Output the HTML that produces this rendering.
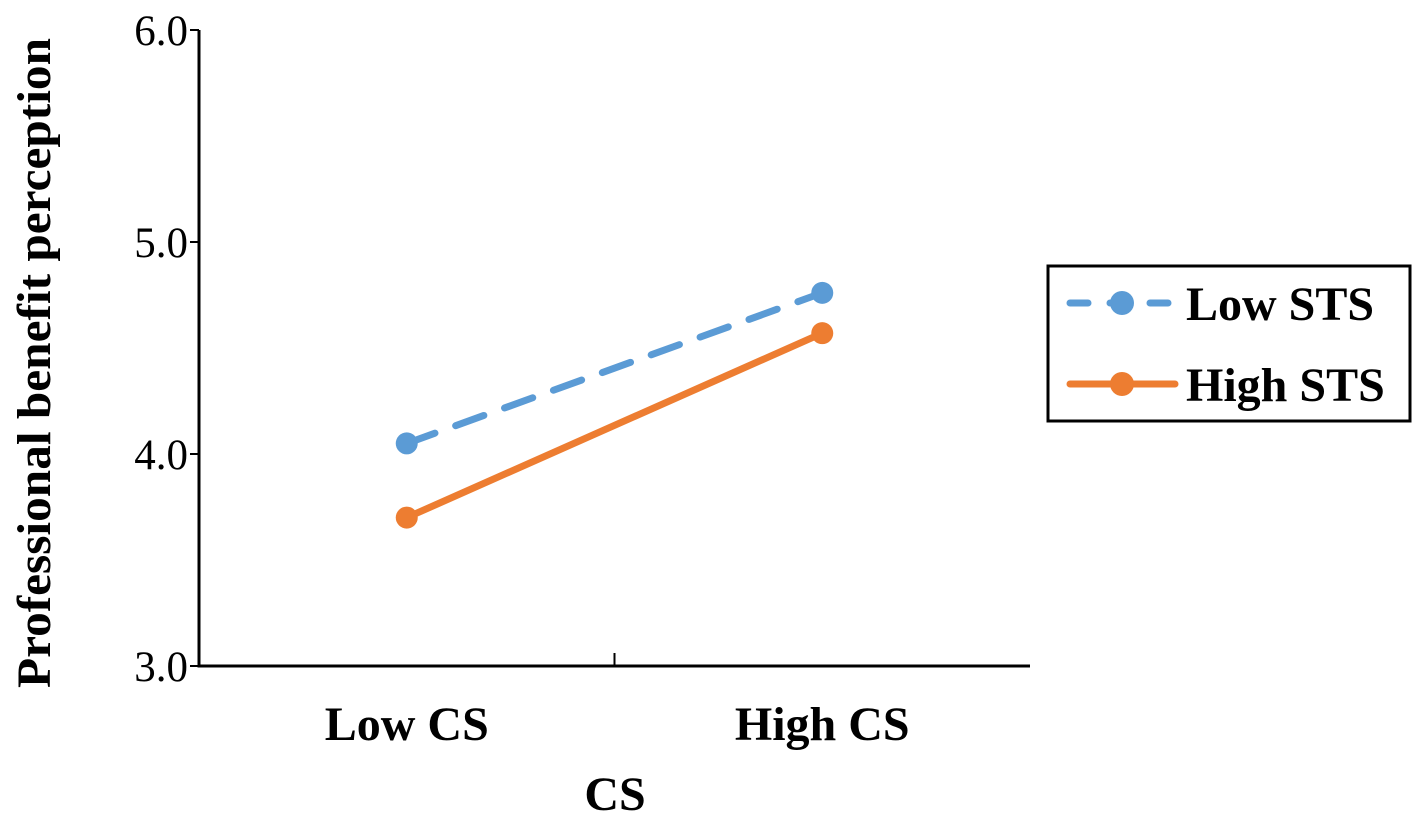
<!DOCTYPE html>
<html><head><meta charset="utf-8"><style>
html,body{margin:0;padding:0;background:#fff;}
svg{display:block;font-family:"Liberation Serif",serif;}
</style></head><body>
<svg id="chart" width="1418" height="818">
<g id="axes"></g><g id="series"></g>
</svg>
<script>
const categories=["Low CS","High CS"];
const lowSTS=[4.05,4.76];
const highSTS=[3.70,4.57];
const yTicks=[3.0,4.0,5.0,6.0];
const seriesNames=["Low STS","High STS"];
const NS="http://www.w3.org/2000/svg";
const x0=199,x1=1030,yTop=30,yBot=666,yMin=3,yMax=6;
function ys(v){return yBot-(v-yMin)/(yMax-yMin)*(yBot-yTop);}
function xs(i){return x0+(i+0.5)*(x1-x0)/categories.length;}
function mk(tag,attrs,parent,text){const e=document.createElementNS(NS,tag);for(const k in attrs)e.setAttribute(k,attrs[k]);if(text!==undefined)e.textContent=text;parent.appendChild(e);return e;}
const axes=document.getElementById('axes'),ser=document.getElementById('series'),svg=document.getElementById('chart');
let e=mk('line',{x1:x0,y1:yTop,x2:x0,y2:yBot,stroke:'#000','stroke-width':3},axes);


e=mk('line',{x1:x0-1.5,y1:yBot,x2:x1,y2:yBot,stroke:'#000','stroke-width':3},axes);


yTicks.forEach(v=>{
 const t=mk('line',{x1:x0-9,y1:ys(v),x2:x0,y2:ys(v),stroke:'#000','stroke-width':2},axes);
 
 
 const l=mk('text',{x:x0-11,y:ys(v)+15,'text-anchor':'end','font-size':43},axes,v.toFixed(1));
 
 
});
const xt=x0+(x1-x0)/2;
e=mk('line',{x1:xt,y1:yBot-13,x2:xt,y2:yBot,stroke:'#000','stroke-width':2},axes);


categories.forEach((c,i)=>{
 const l=mk('text',{x:xs(i),y:740,'text-anchor':'middle','font-size':48,'font-weight':'bold'},axes,c);
 
 
});
e=mk('text',{x:615,y:810,'text-anchor':'middle','font-size':48,'font-weight':'bold'},axes,'CS');


e=mk('text',{x:0,y:0,'text-anchor':'middle','font-size':48,'font-weight':'bold',textLength:650,lengthAdjust:'spacingAndGlyphs',transform:'translate(50,363) rotate(-90)'},axes,'Professional benefit  perception');


function drawSeries(vals,color,dash,name){
 const pts=vals.map((v,i)=>xs(i)+','+ys(v)).join(' ');
 const p=mk('polyline',{points:pts,fill:'none',stroke:color,'stroke-width':7,'stroke-dasharray':dash,'stroke-linecap':'round'},ser);
 
 
 vals.forEach((v,i)=>{
  const c=mk('circle',{cx:xs(i),cy:ys(v),r:11,fill:color},ser);
  
  
 });
}
drawSeries(lowSTS,'#5B9BD5','30 22','low-sts');
drawSeries(highSTS,'#ED7D31','none','high-sts');
const lg=mk('g',{},svg);


mk('rect',{x:1048,y:266,width:362,height:155,fill:'#fff',stroke:'#000','stroke-width':3},lg);
[['#5B9BD5','18 22',seriesNames[0],303],['#ED7D31','none',seriesNames[1],384]].forEach(([col,d,n,y])=>{
 mk('line',{x1:1070,y1:y,x2:1175,y2:y,stroke:col,'stroke-width':7,'stroke-dasharray':d,'stroke-linecap':'round'},lg);
 mk('circle',{cx:1122,cy:y,r:12,fill:col},lg);
 const t=mk('text',{x:1186,y:y+17,'font-size':48,'font-weight':'bold'},lg,n);
 
 
});
</script>
</body></html>
